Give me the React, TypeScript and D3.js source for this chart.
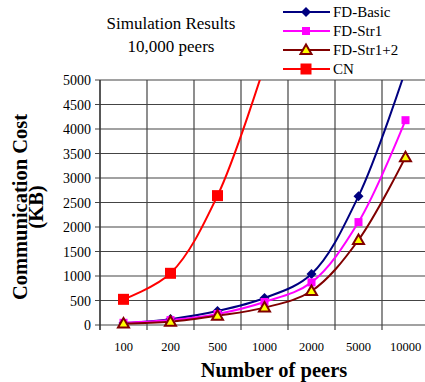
import React from "react";
import * as d3 from "d3";

const peers = ["100", "200", "500", "1000", "2000", "5000", "10000"];
const fdBasic = [40, 120, 285, 550, 1040, 2630, 5200];
const fdStr1 = [45, 100, 225, 470, 870, 2100, 4180];
const fdStr12 = [30, 68, 190, 355, 694, 1735, 3425];
const cn = [524, 1055, 2640, 5300];
const yTicks = [0, 500, 1000, 1500, 2000, 2500, 3000, 3500, 4000, 4500, 5000];

const series = [
  { name: "FD-Basic", values: fdBasic, color: "#000080", marker: "diamond" },
  { name: "FD-Str1", values: fdStr1, color: "#FF00FF", marker: "square" },
  { name: "FD-Str1+2", values: fdStr12, color: "#800000", marker: "triangle" },
  { name: "CN", values: cn, color: "#FF0000", marker: "bigsquare" },
];

const W = 425;
const H = 382;
const left = 100;
const right = 429;
const top = 80;
const bottom = 325;
const FONT = "Liberation Serif";

const Marker = ({ kind, x, y, color }: { kind: string; x: number; y: number; color: string }) => {
  if (kind === "diamond") {
    const s = 5;
    return <path d={`M${x},${y - s}L${x + s},${y}L${x},${y + s}L${x - s},${y}Z`} fill={color} />;
  }
  if (kind === "square") {
    return <rect x={x - 4} y={y - 4} width={8} height={8} fill={color} />;
  }
  if (kind === "bigsquare") {
    return <rect x={x - 5.5} y={y - 5.5} width={11} height={11} fill={color} />;
  }
  return (
    <path
      d={`M${x},${y - 5.5}L${x + 5.5},${y + 4}L${x - 5.5},${y + 4}Z`}
      fill="#FFFF00"
      stroke={color}
      strokeWidth={2}
      strokeLinejoin="miter"
    />
  );
};

const App = () => {
  const x = d3.scaleBand().domain(peers).range([left, right]);
  const y = d3.scaleLinear().domain([0, 5000]).range([bottom, top]);
  const cx = (p: string) => (x(p) as number) + x.bandwidth() / 2;

  const line = d3
    .line<number>()
    .x((_, i) => cx(peers[i]))
    .y((d) => y(d))
    .curve(d3.curveCatmullRom.alpha(0.5));

  return (
    <svg width={W} height={H} style={{ position: "absolute", left: 0, top: 0, background: "#fff" }}>
      <defs>
        <clipPath id="plot">
          <rect x={left} y={top} width={right - left} height={bottom - top} />
        </clipPath>
      </defs>

      {/* grid */}
      {yTicks.map((t) => (
        <line key={t} x1={left - 5} x2={right} y1={y(t)} y2={y(t)} stroke="#444" strokeWidth={1.2} />
      ))}
      {peers.map((p) => (
        <line
          key={p}
          x1={x(p) as number}
          x2={x(p) as number}
          y1={top}
          y2={bottom + 5}
          stroke="#444"
          strokeWidth={1.2}
        />
      ))}
      <line x1={left} x2={left} y1={top} y2={bottom + 5} stroke="#333" strokeWidth={1.2} />

      {/* y tick labels */}
      {yTicks.map((t) => (
        <text key={t} x={91} y={y(t) + 5} textAnchor="end" fontFamily={FONT} fontSize={14} fill="#000">
          {t}
        </text>
      ))}

      {/* x tick labels */}
      {peers.map((p) => (
        <text key={p} x={cx(p)} y={351} textAnchor="middle" fontFamily={FONT} fontSize={12.5}>
          {p}
        </text>
      ))}

      {/* series */}
      <g clipPath="url(#plot)">
        {series.map((s) => (
          <path key={s.name} d={line(s.values) || ""} fill="none" stroke={s.color} strokeWidth={2} />
        ))}
      </g>
      {series.map((s) =>
        s.values.map((v, i) =>
          v <= 5000 ? <Marker key={s.name + i} kind={s.marker} x={cx(peers[i])} y={y(v)} color={s.color} /> : null
        )
      )}

      {/* titles */}
      <text x={171} y={29} textAnchor="middle" fontFamily={FONT} fontSize={17}>
        Simulation Results
      </text>
      <text x={171} y={52} textAnchor="middle" fontFamily={FONT} fontSize={17}>
        10,000 peers
      </text>
      <text x={274} y={377} textAnchor="middle" fontFamily={FONT} fontSize={20.5} fontWeight="bold">
        Number of peers
      </text>
      <g transform="translate(27,207) rotate(-90)">
        <text x={0} y={0} textAnchor="middle" fontFamily={FONT} fontSize={20.5} fontWeight="bold">
          Communication Cost
        </text>
        <text x={0} y={16} textAnchor="middle" fontFamily={FONT} fontSize={20.5} fontWeight="bold">
          (KB)
        </text>
      </g>

      {/* legend */}
      {series.map((s, i) => {
        const ly = 12 + i * 19;
        return (
          <g key={s.name}>
            <line x1={283} x2={330} y1={ly} y2={ly} stroke={s.color} strokeWidth={2} />
            <Marker kind={s.marker} x={306} y={ly} color={s.color} />
            <text x={333} y={ly + 5} fontFamily={FONT} fontSize={15}>
              {s.name}
            </text>
          </g>
        );
      })}
    </svg>
  );
};

export default App;
